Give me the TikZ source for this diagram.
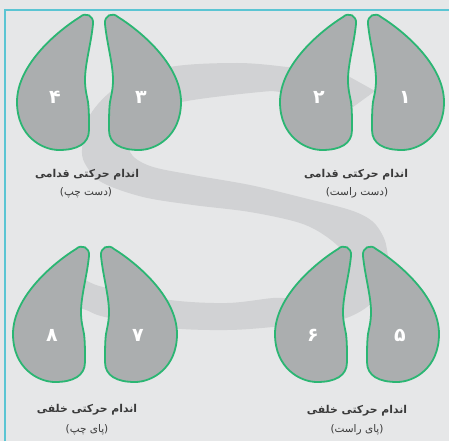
\documentclass[tikz,border=0pt]{standalone}
\usepackage{fontspec}
\setmainfont{DejaVu Sans}
\newfontfamily\arabicfont[Script=Arabic]{DejaVu Sans}
\TeXXeTstate=1
\definecolor{bgc}{HTML}{E6E7E8}
\definecolor{bandc}{HTML}{D1D2D4}
\definecolor{hoofc}{HTML}{ABAEAF}
\definecolor{hoofline}{HTML}{2BB673}
\definecolor{framec}{HTML}{5BC5D3}
\definecolor{txtc}{HTML}{3A3A3A}
\newcommand\hoofshape{(6,10) .. controls (5,1) and (14,-2) .. (19,3) .. controls (40,16) and (82,50) .. (82,88) .. controls (82,122) and (57,136) .. (40,136) .. controls (22,136) and (10,130) .. (10,116) .. controls (10,104) and (10,96) .. (11,88) .. controls (12,82) and (14,76) .. (14,66) .. controls (14,50) and (8,30) .. (6,10) -- cycle}
\newcommand\lp{{\normalfont(}}
\newcommand\rp{{\normalfont)}}
\begin{document}
\begin{tikzpicture}[x=1pt,y=-1pt,
  hoofst/.style={fill=hoofc, draw=hoofline, line width=1.8pt},
  numst/.style={text=white, font=\arabicfont\bfseries\fontsize{19}{19}\selectfont, inner sep=0pt},
  titlest/.style={text=txtc, font=\arabicfont\bfseries\fontsize{10.8}{12}\selectfont, inner sep=0pt},
  subst/.style={text=txtc, font=\arabicfont\fontsize{10.5}{12}\selectfont, inner sep=0pt}]
\useasboundingbox (0,0) rectangle (449,441);
\fill[bgc] (0,0) rectangle (449,441);
\draw[framec, line width=2pt] (5,441) -- (5,10) -- (449,10);
% S band
\fill[bandc] plot[smooth cycle, tension=0.55] coordinates {
 (318,72) (287,67) (237,63) (170,67) (120,85) (90,115) (82,150) (87,167) (103,183)
 (143,197) (193,205) (250,212) (300,223) (327,237) (345,255) (343,275) (325,292)
 (293,298) (273,298) (227,303) (170,300) (103,287) (80,278) (50,272)
 (45,300) (83,309) (105,317) (170,328) (227,330) (273,327) (340,320) (375,300)
 (388,270) (387,250) (383,236) (372,221) (350,210) (300,197) (250,185) (193,175)
 (150,166) (130,152) (132,128) (150,110) (193,100) (260,92) (280,92) (318,100)};
\fill[bandc] (312,56) -- (375,91) -- (312,137) -- cycle;
% hooves
\foreach \cx/\ty in {362/14, 99/14, 95/246, 357/246}{
  \begin{scope}[shift={(\cx,\ty)}]
    \draw[hoofst] \hoofshape;
    \draw[hoofst, xscale=-1] \hoofshape;
  \end{scope}}
% numbers
\node[numst] (n1) at (405,97) {۱};
\node[numst] (n2) at (319,97) {۲};
\node[numst] (n3) at (141,97) {۳};
\node[numst] (n4) at (55,97) {۴};
\node[numst] (n5) at (400,335) {۵};
\node[numst] (n6) at (313,335) {۶};
\node[numst] (n7) at (138,335) {۷};
\node[numst] (n8) at (52,335) {۸};
% labels
\node[titlest] (t1) at (356,175) {\beginR اندام حرکتی قدامی\endR};
\node[subst] (s1) at (357,193) {\lp\beginR دست راست\endR\rp};
\node[titlest] (t2) at (87,175) {\beginR اندام حرکتی قدامی\endR};
\node[subst] (s2) at (86,193) {\lp\beginR دست چپ\endR\rp};
\node[titlest] (t3) at (357,411) {\beginR اندام حرکتی خلفی\endR};
\node[subst] (s3) at (357,430) {\lp\beginR پای راست\endR\rp};
\node[titlest] (t4) at (87,410) {\beginR اندام حرکتی خلفی\endR};
\node[subst] (s4) at (87,430) {\lp\beginR پای چپ\endR\rp};
\end{tikzpicture}
\end{document}
